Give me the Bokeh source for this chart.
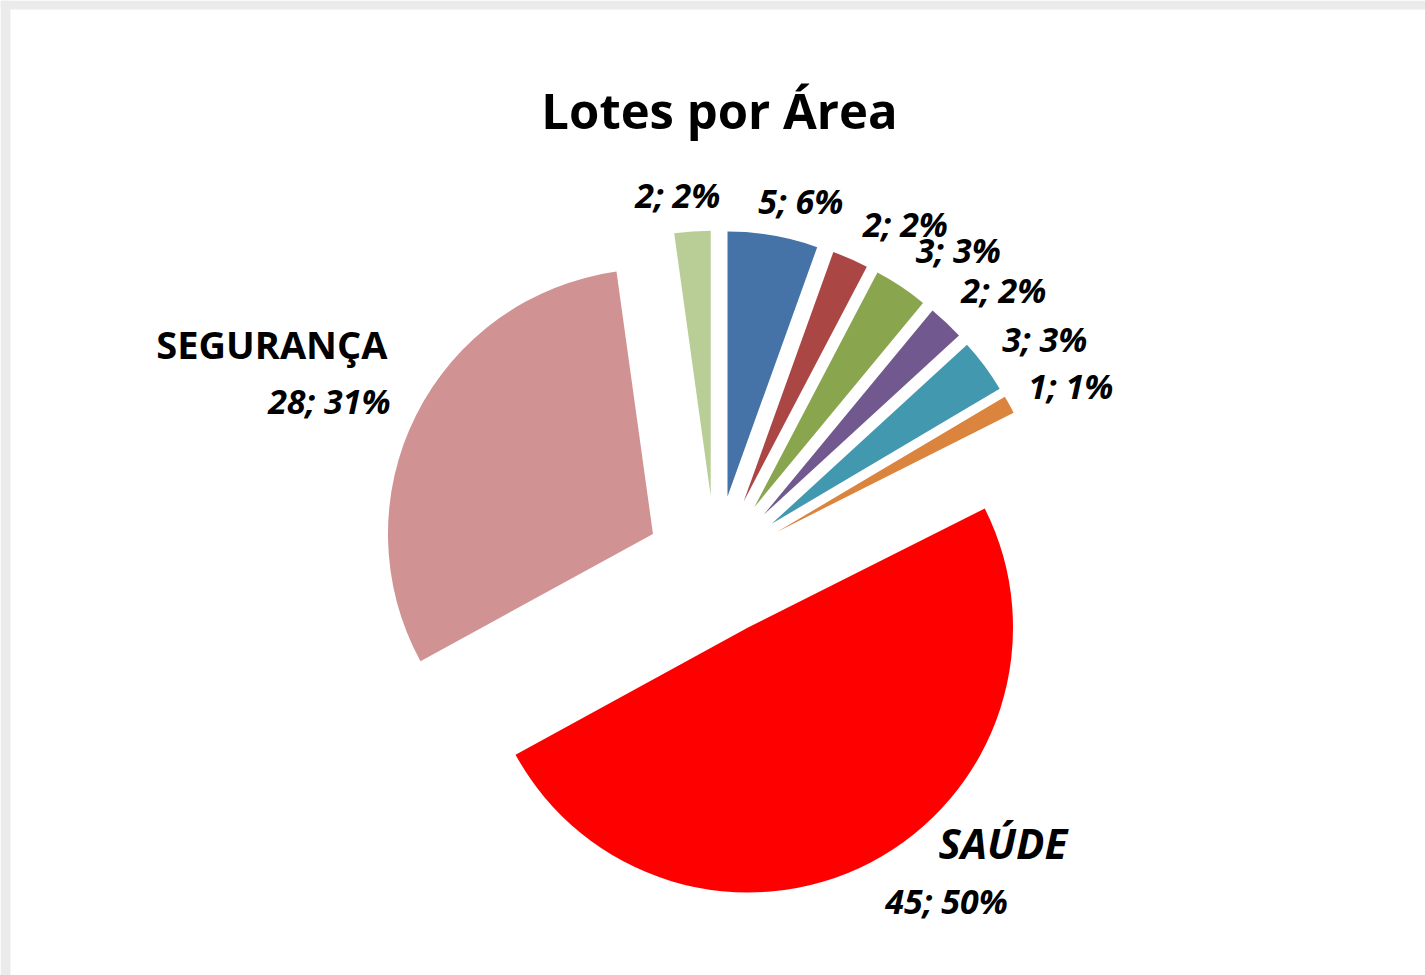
import math
from bokeh.plotting import figure
from bokeh.models import Range1d, ColumnDataSource, BoxAnnotation
from bokeh.core.properties import value
from bokeh.embed import file_html
from bokeh.resources import INLINE

# ---------------- data ----------------
chart_title = "Lotes por Área"
categories = ["", "", "", "", "", "", "SAÚDE", "SEGURANÇA", ""]
values = [5, 2, 3, 2, 3, 1, 45, 28, 2]
percent_labels = ["6%", "2%", "3%", "2%", "3%", "1%", "50%", "31%", "2%"]
colors = ["#4572A7", "#AA4643", "#89A54E", "#71588F", "#4198AF",
          "#DB843D", "#FF0000", "#D09292", "#B9CD96"]

# ---------------- layout ----------------
W, H = 1425, 975
CX, CY = 715, H - 565      # pie centre (data units = pixels)
R = 265                    # radius
EXPLODE = 70               # explosion distance
FONT = "Open Sans"
BASE_FIX = 0.34            # baseline correction (fraction of font size)
VAL_FS, SEG_FS, SAU_FS, TITLE_FS = 34, 38, 42, 49
# value-label anchor (polar, clockwise from 12 o'clock, relative to pie centre)
val_label_angle = [13.6, 29.9, 38.6, 47.5, 56.9, 64.7, 153.9, 295.2, 354.0]
val_label_dist = [363, 381, 389, 391, 393, 393, 386, 359, 361]
val_label_align = ["center"] * 6 + ["left", "right", "center"]
cat_label_angle = {6: 142.6, 7: 302.5}
cat_label_dist = {6: 367, 7: 389}
cat_label_align = {6: "left", 7: "right"}
cat_label_size = {6: SAU_FS, 7: SEG_FS}
cat_label_style = {6: "bold italic", 7: "bold"}

total = sum(values)

xs, ys, starts, ends = [], [], [], []
acc = 0.0
for v in values:
    a0 = acc / total * 2 * math.pi
    acc += v
    a1 = acc / total * 2 * math.pi
    mid = (a0 + a1) / 2
    xs.append(CX + EXPLODE * math.sin(mid))
    ys.append(CY + EXPLODE * math.cos(mid))
    starts.append(math.pi / 2 - a1)
    ends.append(math.pi / 2 - a0)

src = ColumnDataSource(dict(x=xs, y=ys, start=starts, end=ends, color=colors))

p = figure(width=W, height=H, x_range=Range1d(0, W), y_range=Range1d(0, H),
           output_backend="svg", toolbar_location=None, min_border=0,
           x_axis_location=None, y_axis_location=None)
p.grid.visible = False
p.outline_line_color = None
p.background_fill_color = "white"
p.border_fill_color = "white"

# light grey page edge (top and left)
p.add_layout(BoxAnnotation(top=H, bottom=H - 9, fill_color="#ebebeb", fill_alpha=1, line_color=None))
p.add_layout(BoxAnnotation(left=0, right=10, fill_color="#ebebeb", fill_alpha=1, line_color=None))

p.wedge(x="x", y="y", radius=R, start_angle="start", end_angle="end",
        direction="anticlock", fill_color="color", line_color=None, source=src)

def polar(angle_deg, dist):
    a = math.radians(angle_deg)
    return CX + dist * math.sin(a), CY + dist * math.cos(a)

def label(x, y, txt, size, style, align):
    p.text(x=[x], y=[y + BASE_FIX * size], text=[txt],
           text_font=value(FONT), text_font_size=f"{size}px", text_font_style=style,
           text_align=align, text_baseline="alphabetic", text_color="black")

# value labels
for i, v in enumerate(values):
    lx, ly = polar(val_label_angle[i], val_label_dist[i])
    label(lx, ly, f"{v}; {percent_labels[i]}", VAL_FS, "bold italic", val_label_align[i])

# category labels
for i, name in enumerate(categories):
    if not name:
        continue
    lx, ly = polar(cat_label_angle[i], cat_label_dist[i])
    label(lx, ly, name, cat_label_size[i], cat_label_style[i], cat_label_align[i])

# title
label(719, H - 126, chart_title, TITLE_FS, "bold", "center")

html = file_html(p, INLINE, title=chart_title)
open("out.html", "w").write(html)
